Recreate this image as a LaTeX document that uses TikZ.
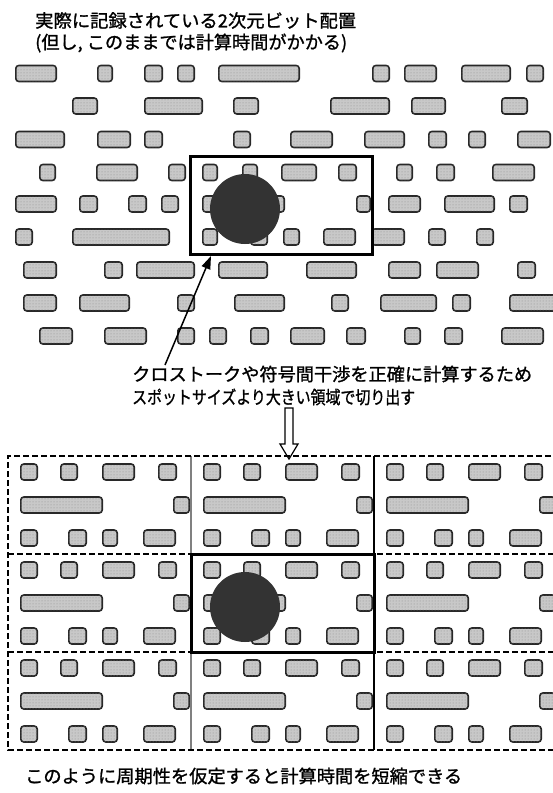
\documentclass[tikz,border=0pt]{standalone}
\usepackage{fontspec}
\usetikzlibrary{arrows.meta,patterns}
\newfontfamily\jp[FakeBold=1.2]{Noto Sans CJK JP}
\newsavebox\fitbox
\newcommand\fitw[2]{\sbox\fitbox{#2}\pgfmathsetmacro\fitsx{#1/\the\wd\fitbox}\scalebox{\fitsx}[1]{\usebox\fitbox}}
\definecolor{bitfill}{RGB}{200,200,200}
\definecolor{bitline}{RGB}{40,40,40}
\definecolor{spot}{RGB}{51,51,51}
\tikzset{
  bit/.style={fill=bitfill,draw=bitline,line width=1.6pt,rounded corners=3pt,
    postaction={pattern=dots,pattern color=gray!90}},
  selbox/.style={draw=black,line width=3pt},
  dashline/.style={draw=black,line width=1.8pt,dash pattern=on 6pt off 3pt},
  tileline/.style={line width=1.6pt},
  spotdisk/.style={fill=spot},
  label/.style={inner sep=0pt,anchor=west,font=\jp\fontsize{18pt}{20pt}\selectfont},
  pointer/.style={line width=1.5pt,-{Triangle[length=13pt,width=9pt]}},
  hollow/.style={draw=black,fill=white,line width=1.2pt}
}
\begin{document}
\begin{tikzpicture}[x=1pt,y=-1pt]
\useasboundingbox (0,0) rectangle (553,793);
\clip (0,0) rectangle (553,793);
\fill[white] (0,0) rectangle (553,793);
% top bit array
\foreach \cy/\xs in {
  73.5/{15/57,97/113,144/163,177/195,218/300,372/390,404/437,461/511,526/544},
  106/{72/98,144/203,233/259,330/390,411/446,501/528},
  139.5/{15/65,97/131,144/163,233/251,290/333,364/405,428/447,468/486,517/551},
  172.5/{39/56,96/138,168/186,202/218,242/258,281/317,338/357,396/413,436/455,492/535},
  204/{15/57,79/98,128/147,161/179,202/285,356/371,388/421,444/495,509/528},
  237/{15/33,72/170,202/218,250/268,283/300,323/356,371/405,428/446,476/494},
  270/{23/57,104/123,136/195,218/268,306/357,388/421,436/479,517/536},
  303/{23/57,79/130,177/195,234/285,331/349,380/437,452/471,509/560},
  336/{39/73,104/147,177/195,209/227,250/269,290/325,346/366,404/421,444/463,501/544}}{
  \foreach \a/\b in \xs {
    \draw[bit] (\a+0.8,\cy-8) rectangle (\b-0.8,\cy+8);
  }
}
\draw[selbox] (190,156) rectangle (372,254);
\fill[spotdisk] (245,209) circle (35);
% texts
\node[label] (title1) at (35,20.5) {\fitw{321}{実際に記録されている2次元ビット配置}};
\node[label] (title2) at (35,43) {\fitw{312}{(但し, このままでは計算時間がかかる)}};
\node[label] (note1) at (132,374) {\fitw{400}{クロストークや符号間干渉を正確に計算するため}};
\node[label] (note2) at (132,397) {\fitw{283}{スポットサイズより大きい領域で切り出す}};
\node[label] (result) at (25,776) {\fitw{437}{このように周期性を仮定すると計算時間を短縮できる}};
\coordinate (ptrstart) at (165,365);
\coordinate (ptrtip) at (211,256);
\draw[pointer] (ptrstart) -- (ptrtip);
% hollow down arrow
\draw[hollow] (285,408) -- (293,408) -- (293,444) -- (298,444) -- (289,459) -- (280,444) -- (285,444) -- cycle;
% periodic tiles
\foreach \L in {8,191,374}{
  \foreach \T in {456,554,652}{
    \foreach \a/\b/\r in {12/30/16,52/70/16,94/127/16,150/169/16,12/95/49,165/182/49,12/30/82,60/79/82,94/110/82,135/168/82}{
      \draw[bit] (\L+\a+0.8,\T+\r-8) rectangle (\L+\b-0.8,\T+\r+8);
    }
  }
}
\draw[tileline,draw=gray] (191,456) -- (191,750);
\draw[tileline,draw=black] (374,456) -- (374,750);
\draw[dashline] (560,456) -| (8,750) -- (560,750);
\draw[dashline] (8,554) -- (560,554);
\draw[dashline] (8,652) -- (560,652);
\draw[selbox] (191,554) rectangle (374,652);
\fill[spotdisk] (245,607) circle (35);
\end{tikzpicture}
\end{document}
